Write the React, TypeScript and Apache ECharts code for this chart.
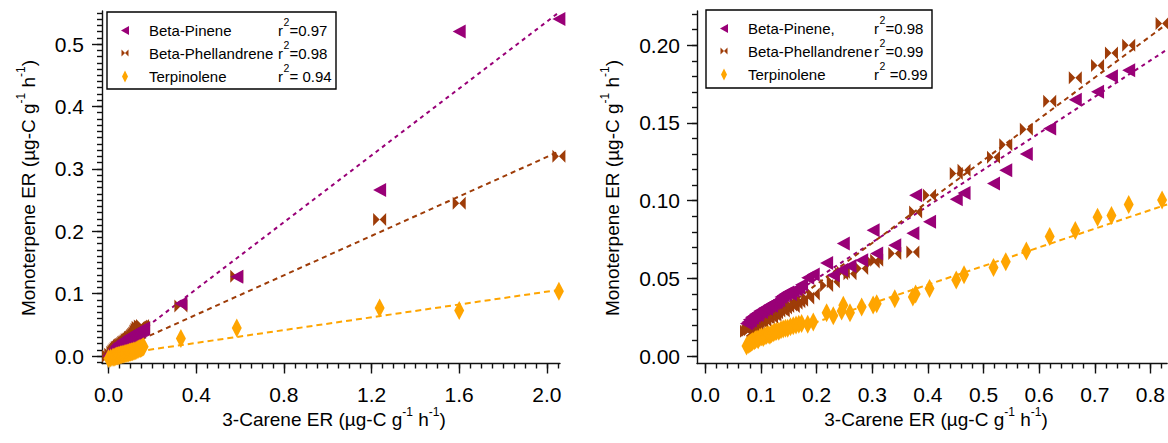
import React, { useEffect, useRef } from "react";
import * as echarts from "echarts";

// Marker / line colours
const PURPLE = "#990077";
const BROWN = "#9e3c08";
const ORANGE = "#ffa500";
const FONT = '"Liberation Sans", Arial, Helvetica, sans-serif';

// Panel A: 3-Carene emission rate (x) and co-emitted monoterpenes (y)
const leftCarene = [
  0.0, 0.01, 0.02, 0.025, 0.03, 0.035, 0.04, 0.045, 0.05, 0.055, 0.06, 0.065,
  0.07, 0.075, 0.08, 0.085, 0.09, 0.095, 0.1, 0.105, 0.11, 0.115, 0.12, 0.125,
  0.13, 0.135, 0.14, 0.145, 0.15, 0.155, 0.16, 0.33, 0.585, 1.237, 1.6, 2.055,
];
const leftPinene = [
  0.0, 0.004, 0.008, 0.01, 0.012, 0.015, 0.017, 0.019, 0.02, 0.021, 0.022,
  0.024, 0.025, 0.026, 0.027, 0.028, 0.03, 0.031, 0.032, 0.033, 0.034, 0.035,
  0.036, 0.037, 0.038, 0.039, 0.04, 0.041, 0.042, 0.043, 0.044, 0.084, 0.127,
  0.266, 0.52, 0.54,
];
const leftPhellandrene = [
  0.0, 0.003, 0.006, 0.008, 0.01, 0.012, 0.014, 0.015, 0.017, 0.018, 0.019,
  0.02, 0.022, 0.023, 0.024, 0.026, 0.027, 0.028, 0.03, 0.031, 0.033, 0.035,
  0.037, 0.04, 0.043, 0.046, 0.044, 0.048, 0.047, 0.049, 0.046, 0.08, 0.128,
  0.219, 0.245, 0.32,
];
const leftTerpinolene = [
  -0.004, -0.003, -0.002, -0.002, -0.001, 0.0, 0.0, 0.001, 0.001, 0.002, 0.002,
  0.003, 0.003, 0.004, 0.004, 0.005, 0.005, 0.006, 0.006, 0.007, 0.007, 0.008,
  0.008, 0.009, 0.01, 0.011, 0.012, 0.012, 0.013, 0.014, 0.015, 0.028, 0.045,
  0.077, 0.073, 0.104,
];
// Linear fits (slope, intercept) for Beta-Pinene, Beta-Phellandrene, Terpinolene
const leftSlopes = [0.268, 0.158, 0.0513];
const leftIntercepts = [0.0, 0.003, 0.0005];
const leftNames = ["Beta-Pinene", "Beta-Phellandrene", "Terpinolene"];
const leftR2 = ["=0.97", "=0.98", "= 0.94"];

// Panel B
const rightCarene = [
  0.074, 0.077, 0.079, 0.081, 0.083, 0.085, 0.088, 0.09, 0.093, 0.095, 0.098,
  0.101, 0.104, 0.107, 0.11, 0.113, 0.116, 0.119, 0.122, 0.125, 0.128, 0.132,
  0.136, 0.14, 0.144, 0.148, 0.153, 0.158, 0.163, 0.168, 0.173, 0.184, 0.194,
  0.218, 0.23, 0.245, 0.248, 0.26, 0.281, 0.3016, 0.308, 0.3405, 0.373, 0.378,
  0.403, 0.451, 0.465, 0.518, 0.54, 0.577, 0.619, 0.665, 0.705, 0.73, 0.761,
  0.821,
];
const rightPinene = [
  0.021, 0.022, 0.0235, 0.023, 0.025, 0.0245, 0.026, 0.027, 0.0265, 0.028,
  0.029, 0.0285, 0.03, 0.031, 0.0305, 0.032, 0.033, 0.0325, 0.034, 0.0345,
  0.035, 0.036, 0.038, 0.039, 0.04, 0.041, 0.04, 0.042, 0.043, 0.044, 0.046,
  0.0505, 0.0525, 0.06, 0.052, 0.0555, 0.0725, 0.058, 0.0617, 0.081, 0.066,
  0.0714, 0.079, 0.1035, 0.0864, 0.1009, 0.105, 0.111, 0.1196, 0.13, 0.1464,
  0.165, 0.17, 0.1801, 0.1839, 0.2225,
];
const rightPhellandrene = [
  0.016, 0.0165, 0.018, 0.017, 0.019, 0.0185, 0.02, 0.021, 0.02, 0.022,
  0.0225, 0.022, 0.024, 0.023, 0.025, 0.0245, 0.026, 0.025, 0.027, 0.0265,
  0.028, 0.029, 0.03, 0.029, 0.031, 0.032, 0.033, 0.032, 0.034, 0.035, 0.036,
  0.0375, 0.04, 0.0455, 0.0478, 0.053, 0.054, 0.053, 0.0564, 0.0606, 0.0617,
  0.066, 0.067, 0.0928, 0.1035, 0.1175, 0.1196, 0.128, 0.136, 0.146, 0.164,
  0.179, 0.187, 0.195, 0.2, 0.214,
];
const rightTerpinolene = [
  0.0065, 0.0075, 0.008, 0.0085, 0.009, 0.0095, 0.01, 0.0105, 0.011, 0.0105,
  0.012, 0.0125, 0.012, 0.013, 0.0135, 0.014, 0.0135, 0.0145, 0.015, 0.0155,
  0.016, 0.016, 0.017, 0.0175, 0.018, 0.018, 0.019, 0.0195, 0.02, 0.0205,
  0.021, 0.0205, 0.022, 0.028, 0.026, 0.029, 0.0328, 0.028, 0.0317, 0.033,
  0.0338, 0.037, 0.038, 0.04, 0.0435, 0.049, 0.0523, 0.057, 0.0608, 0.0676,
  0.077, 0.0808, 0.0893, 0.0905, 0.0975, 0.1005,
];
const rightSlopes = [0.234, 0.266, 0.12];
const rightIntercepts = [0.003, -0.007, -0.002];
const rightNames = ["Beta-Pinene,", "Beta-Phellandrene", "Terpinolene"];
const rightR2 = ["=0.98", "=0.99", " =0.99"];

// Tick values
const leftXMajor = [0, 0.4, 0.8, 1.2, 1.6, 2.0];
const leftYMajor = [0, 0.1, 0.2, 0.3, 0.4, 0.5];
const rightXMajor = [0, 0.1, 0.2, 0.3, 0.4, 0.5, 0.6, 0.7, 0.8];
const rightYMajor = [0, 0.05, 0.1, 0.15, 0.2];

// Axis titles: [text, superscript?] pieces
const xTitle: [string, boolean][] = [
  ["3-Carene ER (µg-C g", false],
  ["-1", true],
  [" h", false],
  ["-1", true],
  [")", false],
];
const yTitle: [string, boolean][] = [
  ["Monoterpene ER (µg-C g", false],
  ["-1", true],
  [" h", false],
  ["-1", true],
  [")", false],
];

// Marker shapes
const TRI_LEFT = "path://M0,6L11,0L11,12Z";
const BOWTIE = "path://M0,0L5.5,6L0,12ZM11,0L5.5,6L11,12Z";

const TITLE_SIZE = 19;
const SUP_SIZE = 12;

let measureCtx: CanvasRenderingContext2D | null = null;
function textWidth(text: string, size: number): number {
  if (!measureCtx) measureCtx = document.createElement("canvas").getContext("2d");
  if (!measureCtx) return text.length * size * 0.55;
  measureCtx.font = `${size}px ${FONT}`;
  return measureCtx.measureText(text).width;
}

function steps(min: number, max: number, step: number): number[] {
  const out: number[] = [];
  const n0 = Math.ceil(min / step - 1e-9);
  const n1 = Math.floor(max / step + 1e-9);
  for (let i = n0; i <= n1; i++) out.push(+(i * step).toFixed(6));
  return out;
}

function axisPair(
  dim: "x" | "y",
  gridIndex: number,
  min: number,
  max: number,
  majors: number[],
  minorStep: number,
  decimals: number,
  labelMargin: number
) {
  const position = dim === "x" ? "bottom" : "left";
  const black = { color: "#111", width: 1.4 };
  const major = {
    type: "value",
    gridIndex,
    min,
    max,
    position,
    axisLine: { show: true, onZero: false, lineStyle: black },
    axisTick: { show: true, inside: false, length: 10, customValues: majors, lineStyle: black },
    axisLabel: {
      show: true,
      customValues: majors,
      formatter: (v: number) => v.toFixed(decimals),
      fontFamily: FONT,
      fontSize: 21,
      color: "#000",
      margin: labelMargin,
      showMinLabel: true,
      showMaxLabel: true,
    },
    splitLine: { show: false },
  };
  const minor = {
    type: "value",
    gridIndex,
    min,
    max,
    position,
    axisLine: { show: false, onZero: false },
    axisTick: { show: true, inside: false, length: 5, customValues: steps(min, max, minorStep), lineStyle: black },
    axisLabel: { show: false },
    splitLine: { show: false },
  };
  return [major, minor];
}

function scatter(name: string, xs: number[], ys: number[], axisIdx: number, symbol: string, size: number[], color: string) {
  return {
    type: "scatter",
    name,
    xAxisIndex: axisIdx,
    yAxisIndex: axisIdx,
    data: xs.map((x, i) => [x, ys[i]]),
    symbol,
    symbolSize: size,
    itemStyle: { color, opacity: 1 },
    z: 3,
  };
}

function fitLine(xs: number[], slope: number, intercept: number, xEnd: number, axisIdx: number, color: string, dash: number[]) {
  const x0 = Math.min(...xs);
  return {
    type: "line",
    xAxisIndex: axisIdx,
    yAxisIndex: axisIdx,
    data: [
      [x0, slope * x0 + intercept],
      [xEnd, slope * xEnd + intercept],
    ],
    symbol: "none",
    lineStyle: { color, width: 2, type: dash },
    silent: true,
    z: 2,
  };
}

function legendGraphics(x: number, y: number, w: number, h: number, names: string[], r2: string[], rAt: number) {
  const items: any[] = [
    { type: "rect", shape: { x, y, width: w, height: h }, style: { fill: "#fff", stroke: "#000", lineWidth: 1.4 }, z: 10 },
  ];
  const rows = [y + 18.5, y + 41, y + 64.5];
  const ix = x + 18;
  items.push({
    type: "polygon",
    shape: { points: [[ix - 4, rows[0]], [ix + 4, rows[0] - 4.5], [ix + 4, rows[0] + 4.5]] },
    style: { fill: PURPLE },
    z: 11,
  });
  items.push({
    type: "polygon",
    shape: { points: [[ix - 3.5, rows[1] - 3.5], [ix, rows[1]], [ix - 3.5, rows[1] + 3.5]] },
    style: { fill: BROWN },
    z: 11,
  });
  items.push({
    type: "polygon",
    shape: { points: [[ix + 3.5, rows[1] - 3.5], [ix, rows[1]], [ix + 3.5, rows[1] + 3.5]] },
    style: { fill: BROWN },
    z: 11,
  });
  items.push({
    type: "polygon",
    shape: { points: [[ix, rows[2] - 6], [ix + 3, rows[2]], [ix, rows[2] + 6], [ix - 3, rows[2]]] },
    style: { fill: ORANGE },
    z: 11,
  });
  const txt = (tx: number, ty: number, text: string, size: number) => ({
    type: "text",
    x: tx,
    y: ty,
    style: { text, fontFamily: FONT, fontSize: size, fill: "#000", align: "left", verticalAlign: "middle" },
    z: 11,
  });
  names.forEach((n, i) => {
    items.push(txt(x + 42, rows[i], n, 15));
    items.push(txt(rAt, rows[i], "r", 15));
    items.push(txt(rAt + 5.5, rows[i] - 8.5, "2", 10.5));
    items.push(txt(rAt + 11.5, rows[i], r2[i], 15));
  });
  return items;
}

// Axis title laid out piece by piece so the superscripts sit just above the line
function titleGraphics(cx: number, cy: number, pieces: [string, boolean][], rotate: boolean) {
  const widths = pieces.map(([t, sup]) => textWidth(t, sup ? SUP_SIZE : TITLE_SIZE));
  const total = widths.reduce((a, b) => a + b, 0);
  let pos = -total / 2;
  const children = pieces.map(([t, sup], i) => {
    const el = {
      type: "text",
      x: pos,
      y: sup ? -7 : 0,
      style: {
        text: t,
        fontFamily: FONT,
        fontSize: sup ? SUP_SIZE : TITLE_SIZE,
        fill: "#000",
        align: "left",
        verticalAlign: "middle",
      },
    };
    pos += widths[i];
    return el;
  });
  return {
    type: "group",
    x: cx,
    y: cy,
    rotation: rotate ? Math.PI / 2 : 0,
    children,
    z: 5,
  };
}

export default function App() {
  const ref = useRef<HTMLDivElement>(null);
  useEffect(() => {
    if (!ref.current) return;
    const chart = echarts.init(ref.current, undefined, { renderer: "svg" });

    const L = { xMin: -0.03, xMax: 2.06, yMin: -0.012, yMax: 0.553 };
    const R = { xMin: -0.015, xMax: 0.83, yMin: -0.0047, yMax: 0.222 };

    const xAxes = [
      ...axisPair("x", 0, L.xMin, L.xMax, leftXMajor, 0.05, 1, 20),
      ...axisPair("x", 1, R.xMin, R.xMax, rightXMajor, 0.02, 1, 20),
    ];
    const yAxes = [
      ...axisPair("y", 0, L.yMin, L.yMax, leftYMajor, 0.01, 1, 18),
      ...axisPair("y", 1, R.yMin, R.yMax, rightYMajor, 0.01, 2, 17),
    ];

    const series: any[] = [
      fitLine(leftCarene, leftSlopes[0], leftIntercepts[0], L.xMax, 0, PURPLE, [4, 4]),
      fitLine(leftCarene, leftSlopes[1], leftIntercepts[1], L.xMax, 0, BROWN, [5, 4]),
      fitLine(leftCarene, leftSlopes[2], leftIntercepts[2], L.xMax, 0, ORANGE, [6, 4]),
      scatter(leftNames[1], leftCarene, leftPhellandrene, 0, BOWTIE, [13, 13], BROWN),
      scatter(leftNames[0], leftCarene, leftPinene, 0, TRI_LEFT, [13, 14], PURPLE),
      scatter(leftNames[2], leftCarene, leftTerpinolene, 0, "diamond", [10, 19], ORANGE),
      fitLine(rightCarene, rightSlopes[0], rightIntercepts[0], R.xMax, 2, PURPLE, [4, 4]),
      fitLine(rightCarene, rightSlopes[1], rightIntercepts[1], R.xMax, 2, BROWN, [5, 4]),
      fitLine(rightCarene, rightSlopes[2], rightIntercepts[2], R.xMax, 2, ORANGE, [6, 4]),
      scatter(rightNames[1], rightCarene, rightPhellandrene, 2, BOWTIE, [13, 13], BROWN),
      scatter(rightNames[0], rightCarene, rightPinene, 2, TRI_LEFT, [13, 14], PURPLE),
      scatter(rightNames[2], rightCarene, rightTerpinolene, 2, "diamond", [10, 19], ORANGE),
    ];

    chart.setOption({
      animation: false,
      backgroundColor: "#fff",
      grid: [
        { left: 102, top: 11, width: 458, height: 352.5, containLabel: false },
        { left: 697, top: 11, width: 471, height: 352.5, containLabel: false },
      ],
      xAxis: xAxes,
      yAxis: yAxes,
      series,
      graphic: [
        ...legendGraphics(107, 12, 229, 77, leftNames, leftR2, 278),
        ...legendGraphics(706, 10, 226, 78, rightNames, rightR2, 874),
        titleGraphics(334, 419, xTitle, false),
        titleGraphics(936, 419, xTitle, false),
        titleGraphics(28, 188, yTitle, true),
        titleGraphics(612, 188, yTitle, true),
      ],
    });
    return () => chart.dispose();
  }, []);
  return (
    <div
      ref={ref}
      style={{ position: "absolute", left: 0, top: 0, width: 1168, height: 443, background: "#fff" }}
    />
  );
}
